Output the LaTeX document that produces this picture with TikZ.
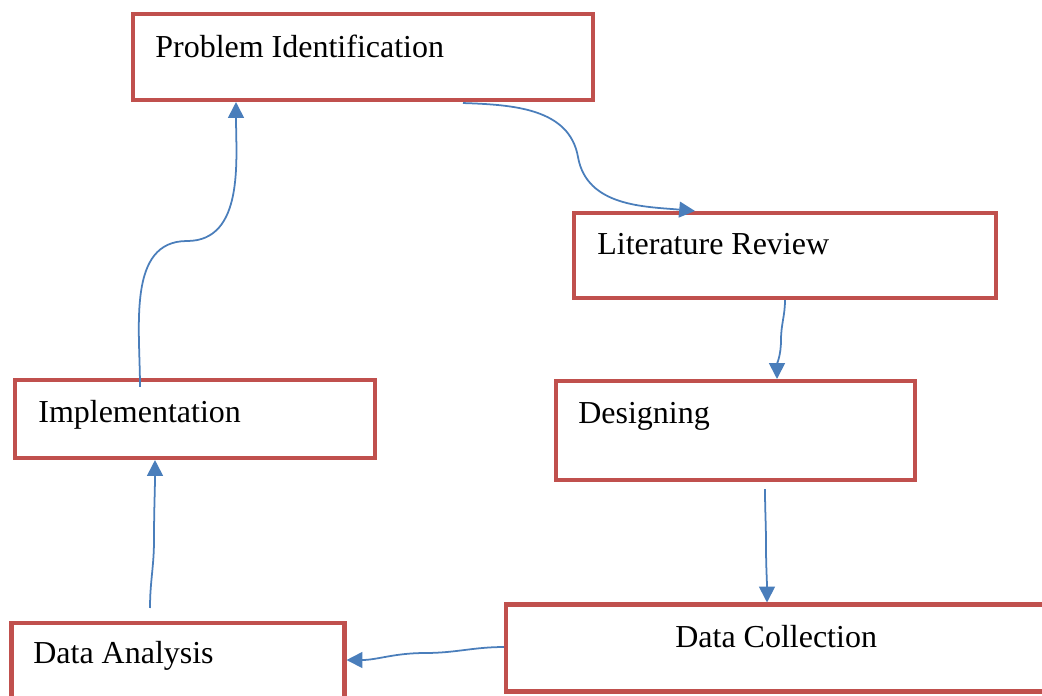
\documentclass[tikz,border=0pt]{standalone}
\usepackage{fontspec}
\setmainfont{Liberation Serif}
\usepackage{xcolor}
\definecolor{boxred}{RGB}{192,80,77}
\definecolor{flowblue}{RGB}{74,126,187}
\usetikzlibrary{arrows.meta, positioning, calc}

\tikzset{
  stage/.style={draw=boxred, line width=2.3pt, fill=white, inner sep=0pt},
  stagetext/.style={anchor=base west, inner sep=0pt, font=\fontsize{18.2}{21}\selectfont},
  flow/.style={draw=flowblue, line width=1pt, -{Triangle[length=9pt,width=9pt]}}
}

\begin{document}
\begin{tikzpicture}
  \clip (0,0) rectangle (20.84,-13.9);
  \fill[white] (0,0) rectangle (20.84,-13.9);

  % boxes
  \node[stage, minimum width=9.2cm, minimum height=1.72cm] (pi) at (7.26,-1.14) {};
  \node[stage, minimum width=8.44cm, minimum height=1.7cm] (lr) at (15.7,-5.11) {};
  \node[stage, minimum width=7.18cm, minimum height=1.98cm] (des) at (14.71,-8.61) {};
  \node[stage, minimum width=7.2cm, minimum height=1.56cm] (impl) at (3.9,-8.38) {};
  \node[stage, minimum width=10.8cm, minimum height=1.74cm] (dc) at (15.52,-12.96) {};
  \node[stage, minimum width=6.66cm, minimum height=1.64cm] (da) at (3.56,-13.28) {};

  % labels
  \node[stagetext] (pitxt) at (3.1,-1.14) {Problem Identification};
  \node[stagetext] (lrtxt) at (11.94,-5.08) {Literature Review};
  \node[stagetext] (destxt) at (11.56,-8.46) {Designing};
  \node[stagetext] (impltxt) at (0.76,-8.44) {Implementation};
  \node[stagetext] (dctxt) at (13.5,-12.94) {Data Collection};
  \node[stagetext] (datxt) at (0.66,-13.26) {Data Analysis};

  % bend points
  \coordinate (k1) at (11.56,-3.14);
  \coordinate (k2) at (15.62,-6.8);
  \coordinate (k3) at (15.32,-10.9);
  \coordinate (k4) at (8.5,-13.06);
  \coordinate (k5) at (3.08,-10.8);
  \coordinate (k6) at (3.74,-4.82);

  % flow
  \draw[flow] ($(pi.south)+(2,-0.02)$) to[out=-2, in=100] (k1) to[out=-80, in=175] ($(lr.north)+(-1.8,0)$);
  \draw[flow] (lr.south) to[out=-90, in=90] (k2) to[out=-90, in=90] ($(des.north)+(0.83,0)$);
  \draw[flow] ($(des.south)+(0.59,-0.14)$) to[out=-90, in=90] (k3) to[out=-90, in=90] ($(dc.north)+(-0.18,0)$);
  \draw[flow] ($(dc.west)+(0,0.02)$) to[out=180, in=0] (k4) to[out=180, in=0] ($(da.east)+(0,0.08)$);
  \draw[flow] ($(da.north)+(-0.56,0.26)$) to[out=90, in=-90] (k5) to[out=90, in=-90] ($(impl.south)+(-0.8,0)$);
  \draw[flow] ($(impl.north)+(-1.1,-0.18)$) to[out=90, in=180] (k6) to[out=0, in=-90] ($(pi.south)+(-2.54,0)$);
\end{tikzpicture}
\end{document}
